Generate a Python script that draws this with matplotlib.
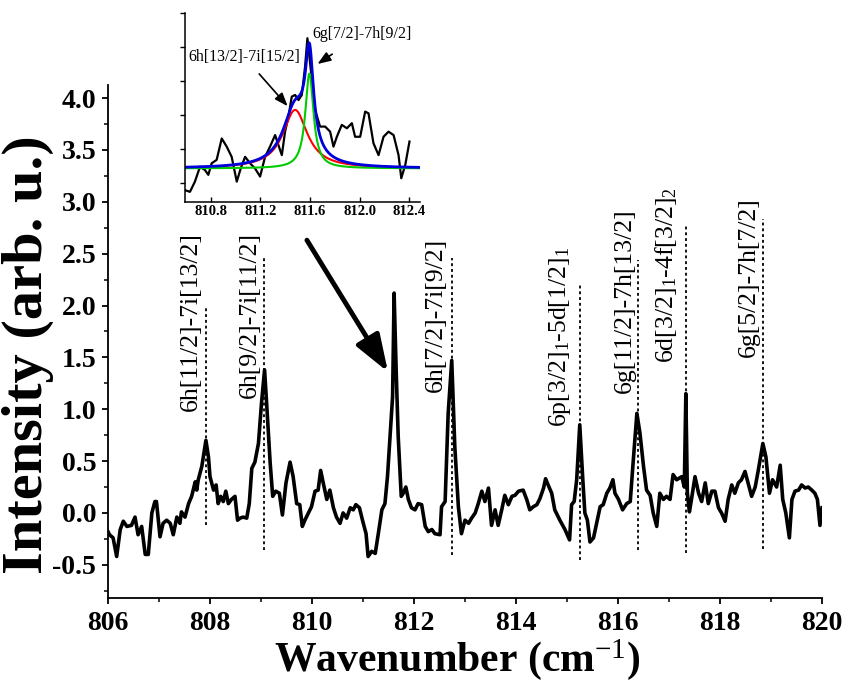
import matplotlib
matplotlib.use('Agg')
import matplotlib.pyplot as plt
from matplotlib.ticker import MultipleLocator
import numpy as np

plt.rcParams['font.family'] = ['Liberation Serif', 'DejaVu Serif']
plt.rcParams['mathtext.fontset'] = 'custom'
plt.rcParams['mathtext.rm'] = 'Liberation Serif'
plt.rcParams['mathtext.it'] = 'Liberation Serif:italic'
plt.rcParams['mathtext.bf'] = 'Liberation Serif:bold'

# ---------------- main spectrum ----------------
wavenumber = [806.0, 806.03, 806.10, 806.17, 806.24, 806.30, 806.37, 806.46, 806.53, 806.59, 806.66, 806.73,
              806.79, 806.86, 806.92, 806.95, 807.02, 807.08, 807.15, 807.22, 807.28, 807.35, 807.41,
              807.44, 807.51, 807.58, 807.64, 807.71, 807.74, 807.77, 807.84, 807.92, 807.97, 808.00,
              808.07, 808.12, 808.16, 808.21, 808.26, 808.31, 808.36, 808.42, 808.49, 808.54, 808.59,
              808.65, 808.72, 808.77, 808.82, 808.88, 808.95, 809.01, 809.07, 809.11, 809.18, 809.23,
              809.29, 809.36, 809.42, 809.49, 809.57, 809.63, 809.70, 809.76, 809.81, 809.86, 809.93,
              809.99, 810.06, 810.12, 810.17, 810.22, 810.29, 810.35, 810.42, 810.48, 810.55, 810.61,
              810.68, 810.75, 810.81, 810.86, 810.93, 810.99, 811.06, 811.10, 811.17, 811.24, 811.30,
              811.37, 811.43, 811.48, 811.53, 811.58, 811.61, 811.65, 811.69, 811.75, 811.79, 811.84,
              811.89, 811.95, 812.02, 812.08, 812.15, 812.22, 812.28,
              812.35, 812.41, 812.51, 812.54, 812.61, 812.67, 812.74, 812.80, 812.87, 812.93, 813.00,
              813.07, 813.13, 813.20, 813.26, 813.33, 813.39, 813.46, 813.52, 813.59, 813.65, 813.72,
              813.78, 813.85, 813.92, 813.98, 814.05, 814.14, 814.21, 814.27, 814.34, 814.41, 814.47,
              814.54, 814.58, 814.63, 814.70, 814.76, 814.86, 814.96, 815.05, 815.09, 815.14, 815.19,
              815.25, 815.31, 815.35, 815.40, 815.45, 815.52, 815.58, 815.65, 815.71, 815.78, 815.84,
              815.90, 815.94, 816.01, 816.09, 816.17, 816.24, 816.30, 816.37, 816.43, 816.50, 816.56,
              816.63, 816.69, 816.76, 816.82, 816.89, 816.95, 817.02, 817.08, 817.15, 817.25, 817.30,
              817.33, 817.36, 817.40, 817.44, 817.51, 817.58, 817.64, 817.71, 817.77, 817.84, 817.90,
              817.97, 818.03, 818.10, 818.16, 818.23, 818.29, 818.36, 818.42, 818.49, 818.56, 818.62,
              818.69, 818.75, 818.84, 818.90, 818.97, 819.03, 819.11, 819.18, 819.23, 819.29, 819.36,
              819.41, 819.47, 819.54, 819.60, 819.67, 819.73, 819.80, 819.86, 819.91, 819.96, 820.0]
intensity = [-0.18, -0.21, -0.24, -0.42, -0.16, -0.08, -0.13, -0.12, -0.04, -0.21, -0.13, -0.40,
             -0.40, 0.00, 0.11, 0.11, -0.23, -0.10, -0.07, -0.10, -0.21, -0.04, -0.10,
             0.01, -0.04, 0.09, 0.16, 0.30, 0.22, 0.32, 0.45, 0.70, 0.54, 0.35,
             0.22, 0.27, 0.09, 0.16, 0.11, 0.21, 0.09, 0.13, 0.16, -0.07, -0.05,
             -0.04, -0.05, 0.09, 0.43, 0.49, 0.67, 1.06, 1.38, 1.06, 0.48, 0.16,
             0.21, 0.19, -0.02, 0.29, 0.49, 0.35, 0.09, 0.08, -0.13, -0.07, 0.00,
             0.06, 0.21, 0.22, 0.41, 0.29, 0.13, 0.22, 0.05, -0.04, -0.10, 0.00,
             -0.05, 0.05, 0.03, 0.08, 0.05, -0.07, -0.20, -0.42, -0.37, -0.39, -0.20,
             0.03, 0.09, 0.35, 0.74, 1.12, 2.12, 1.38, 0.74, 0.16, 0.19, 0.25,
             0.13, 0.05, 0.03, 0.09, 0.08, -0.13, -0.18,
             -0.16, -0.20, -0.21, 0.06, 0.11, 0.96, 1.47, 0.64, 0.06, -0.20, -0.07,
             -0.10, -0.05, 0.00, 0.09, 0.21, 0.11, 0.24, -0.12, 0.03, -0.12, 0.03,
             0.17, 0.08, 0.16, 0.17, 0.21, 0.22, 0.13, 0.03, 0.06, 0.08, 0.14,
             0.24, 0.33, 0.27, 0.19, 0.03, -0.07, -0.16, -0.26, 0.08, 0.11, 0.32,
             0.85, 0.32, 0.00, -0.07, -0.28, -0.24, -0.10, 0.06, 0.08, 0.19, 0.24,
             0.32, 0.19, 0.13, 0.03, 0.09, 0.11, 0.51, 0.96, 0.77, 0.45, 0.22,
             0.17, 0.00, -0.13, 0.19, 0.13, 0.16, 0.13, 0.37, 0.32, 0.35, 0.25,
             1.15, 0.19, 0.01, 0.13, 0.35, 0.19, 0.11, 0.29, 0.09, 0.21, 0.21,
             0.05, 0.00, -0.08, 0.13, 0.27, 0.19, 0.29, 0.32, 0.40, 0.27, 0.16,
             0.25, 0.41, 0.67, 0.54, 0.19, 0.32, 0.25, 0.46, 0.13, 0.00, -0.24,
             0.13, 0.21, 0.22, 0.27, 0.24, 0.25, 0.22, 0.19, 0.13, -0.12, 0.05]

# ---------------- transition markers ----------------
line_positions = [807.92, 809.06, 812.74, 815.25, 816.40, 817.33, 818.84]
line_tops = [1.99, 2.46, 2.46, 2.20, 2.44, 2.79, 2.83]
line_bottoms = [-0.12, -0.36, -0.41, -0.45, -0.36, -0.39, -0.35]
line_labels = ['6h[11/2]-7i[13/2]', '6h[9/2]-7i[11/2]', '6h[7/2]-7i[9/2]',
               r'6p[3/2]$_1$-5d[1/2]$_1$', '6g[11/2]-7h[13/2]',
               r'6d[3/2]$_1$-4f[3/2]$_2$', '6g[5/2]-7h[7/2]']
label_starts = [0.98, 1.11, 1.17, 0.83, 1.16, 1.45, 1.50]
label_dx = [0.17, 0.17, 0.19, 0.26, 0.14, 0.25, 0.16]

# ---------------- inset data ----------------
inset_x = [810.593, 810.633, 810.673, 810.714, 810.754, 810.781, 810.808, 810.848, 810.889, 810.929,
           810.969, 811.010, 811.042, 811.077, 811.117, 811.157, 811.198, 811.238, 811.278, 811.319,
           811.345, 811.373, 811.399, 811.426, 811.453, 811.480, 811.507, 811.534, 811.560, 811.579,
           811.595, 811.615, 811.641, 811.681, 811.722, 811.762, 811.789, 811.816, 811.856, 811.897,
           811.937, 811.963, 812.004, 812.044, 812.071, 812.111, 812.152, 812.192, 812.232, 812.273,
           812.313, 812.335, 812.367, 812.401]
inset_y = [-0.21, -0.26, 0.04, 0.48, 0.38, 0.24, 0.58, 0.68, 1.31, 1.07,
           0.77, 0.04, 0.43, 0.77, 0.58, 0.43, 0.19, 0.77, 1.07, 1.41,
           1.12, 0.82, 1.51, 1.95, 2.54, 2.59, 2.44, 2.59, 3.42, 4.26,
           3.72, 3.03, 2.15, 1.66, 1.66, 1.51, 1.07, 1.36, 1.71, 1.61,
           1.76, 1.36, 1.36, 2.10, 2.05, 1.17, 0.82, 1.36, 1.51, 1.41,
           0.82, 0.14, 0.53, 1.22]
inset_ticks = [810.8, 811.2, 811.6, 812.0, 812.4]

# Lorentzian fit parameters
fit_baseline = 0.43
red_center, red_amp, red_hwhm = 811.48, 1.72, 0.12
green_center, green_amp, green_hwhm = 811.595, 2.79, 0.04

fig = plt.figure(figsize=(8.47, 6.80), dpi=100)
ax = fig.add_axes([0.1275, 0.1206, 0.8430, 0.7550])
ax.plot(wavenumber, intensity, color='black', lw=2.6, solid_joinstyle='round')
ax.set_xlim(806, 820)
ax.set_ylim(-0.82, 4.13)
ax.xaxis.set_major_locator(MultipleLocator(2))
ax.xaxis.set_minor_locator(MultipleLocator(1))
ax.yaxis.set_minor_locator(MultipleLocator(0.25))
ax.set_yticks([-0.5, 0.0, 0.5, 1.0, 1.5, 2.0, 2.5, 3.0, 3.5, 4.0])
ax.set_yticklabels(['-0.5', '0.0', '0.5', '1.0', '1.5', '2.0', '2.5', '3.0', '3.5', '4.0'])
for s in ['top', 'right']:
    ax.spines[s].set_visible(False)
for s in ['left', 'bottom']:
    ax.spines[s].set_linewidth(1.3)
ax.tick_params(which='major', direction='out', length=4.5, width=1.3, labelsize=20)
ax.tick_params(axis='x', which='major', pad=5)
ax.tick_params(axis='y', which='major', pad=4)
ax.tick_params(which='minor', direction='out', length=2.8, width=1.1)
for lab in ax.get_xticklabels() + ax.get_yticklabels():
    lab.set_fontweight('bold')

fig.text(0.540, 0.014, r'Wavenumber (cm$^{-1}$)', fontsize=30, fontweight='bold',
         ha='center', va='baseline')
fig.text(0.033, 0.478, 'Intensity (arb. u.)', fontsize=42, fontweight='bold',
         rotation=90, ha='center', va='center')

for xpos, top, bot, lab, start, dx in zip(line_positions, line_tops, line_bottoms,
                                          line_labels, label_starts, label_dx):
    ax.plot([xpos, xpos], [bot, top], color='black', lw=1.3, linestyle=(0, (1.6, 1.6)))
    ax.text(xpos - dx, start, lab, rotation=90, rotation_mode='anchor',
            ha='left', va='baseline', fontsize=18.5)

ax.annotate('', xy=(811.49, 1.36), xytext=(809.90, 2.63),
            arrowprops=dict(arrowstyle='-|>,head_length=0.9,head_width=0.32',
                            lw=3.5, color='black', mutation_scale=25,
                            shrinkA=0, shrinkB=0))

# ---------------- inset ----------------
axi = fig.add_axes([0.2184, 0.7029, 0.2775, 0.2779])
axi.plot(inset_x, inset_y, color='black', lw=1.6)
xf = np.linspace(810.59, 812.49, 800)
red = fit_baseline + red_amp / (1 + ((xf - red_center) / red_hwhm) ** 2)
green = fit_baseline + green_amp / (1 + ((xf - green_center) / green_hwhm) ** 2)
blue = red + green - fit_baseline
axi.plot(xf, red, color='#ff0000', lw=1.5)
axi.plot(xf, green, color='#00cc00', lw=1.5)
axi.plot(xf, blue, color='#0000dd', lw=2.0)
axi.set_xlim(810.593, 812.486)
axi.set_ylim(-0.56, 5.0)
axi.set_xticks(inset_ticks)
axi.set_xticklabels([f'{t:.1f}' for t in inset_ticks])
axi.set_yticks([0, 1, 2, 3, 4, 5])
axi.set_yticklabels([])
for s in ['top', 'right']:
    axi.spines[s].set_visible(False)
for s in ['left', 'bottom']:
    axi.spines[s].set_linewidth(1.1)
axi.tick_params(axis='x', direction='in', length=3.5, width=1.0, labelsize=10.5, pad=2)
axi.tick_params(axis='y', direction='out', length=3.5, width=1.0)
for lab in axi.get_xticklabels():
    lab.set_fontweight('bold')
axi.patch.set_alpha(0)

axi.annotate('6h[13/2]-7i[15/2]', xy=(811.42, 2.26), xytext=(811.07, 3.71),
             ha='center', va='center', fontsize=11.5,
             arrowprops=dict(arrowstyle='-|>,head_length=0.8,head_width=0.3',
                             lw=1.2, color='black', mutation_scale=10,
                             shrinkA=6, shrinkB=0))
axi.annotate('6g[7/2]-7h[9/2]', xy=(811.66, 3.50), xytext=(812.02, 4.38),
             ha='center', va='center', fontsize=11.5,
             arrowprops=dict(arrowstyle='-|>,head_length=0.8,head_width=0.3',
                             lw=1.2, color='black', mutation_scale=10,
                             shrinkA=12, shrinkB=0))

fig.savefig('out.png', dpi=100)
